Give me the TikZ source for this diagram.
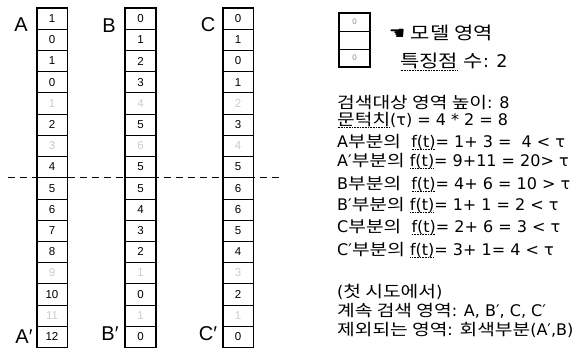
\documentclass[tikz,border=0pt]{standalone}
\usepackage{fontspec}
\setmainfont{DejaVu Sans}
\newfontfamily\kr[FakeStretch=1.2]{Noto Sans CJK KR}
\newfontfamily\lab{Liberation Sans}
\newfontfamily\symf{DejaVu Sans}
\def\dotul#1{\setbox0\hbox{#1}\rlap{\raisebox{-2.8pt}{\hbox to \wd0{\leaders\hbox to 1.6pt{\hss\rule{0.8pt}{0.7pt}\hss}\hfill}}}\box0\relax}
\tikzset{
  cn/.style={draw=black, line width=0.6pt, fill=white, minimum width=30pt, minimum height=21.2pt, inner sep=0pt, font=\lab\fontsize{11.5}{11.5}\selectfont},
  cf/.style={cn, text=black!20},
  collab/.style={inner sep=0pt, font=\lab\fontsize{20}{20}\selectfont},
  rtxt/.style={anchor=west, inner sep=0pt, font=\fontsize{16}{16}\selectfont},
  mtxt/.style={anchor=west, inner sep=0pt, font=\fontsize{17.5}{17.5}\selectfont},
  mcell/.style={draw=black, line width=0.6pt, minimum width=30pt, minimum height=18pt, inner sep=0pt, font=\lab\fontsize{8}{8}\selectfont, text=black!45},
  dline/.style={line width=1.5pt, dash pattern=on 7pt off 5pt},
  outer/.style={line width=1.6pt}
}
\newcommand\drawcolumn[3]{%
  \foreach \v/\s [count=\i] in {#3} {
    \node[\s] (#1\i) at ({#2},{8+(\i-0.5)*21.2}) {\v};
  }
  \draw[outer] (#11.north west) rectangle (#116.south east);
}
\begin{document}
\begin{tikzpicture}[x=1pt,y=-1pt]
\useasboundingbox (0,0) rectangle (576,361);
\fill[white] (0,0) rectangle (576,361);
% dashed line behind columns
\coordinate (dl) at (8,177.6);
\coordinate (dr) at (282,177.6);
\draw[dline] (dl) -- (dr);
% columns
\drawcolumn{A}{52}{1/cn,0/cn,1/cn,0/cn,1/cf,2/cn,3/cf,4/cn,5/cn,6/cn,7/cn,8/cn,9/cf,10/cn,11/cf,12/cn}
\drawcolumn{B}{140.5}{0/cn,1/cn,2/cn,3/cn,4/cf,5/cn,6/cf,5/cn,5/cn,4/cn,3/cn,2/cn,1/cf,0/cn,1/cf,0/cn}
\drawcolumn{C}{238}{0/cn,1/cn,0/cn,1/cn,2/cf,3/cn,4/cf,5/cn,6/cn,6/cn,5/cn,4/cn,3/cf,2/cn,1/cf,0/cn}
% column labels
\node[collab] (la) at (21,25) {A};
\node[collab] (lap) at (24,337) {A′};
\node[collab] (lb) at (109,26) {B};
\node[collab] (lbp) at (110,334) {B′};
\node[collab] (lc) at (208,25) {C};
\node[collab] (lcp) at (208,334) {C′};
% model region
\node[mcell] (m1) at (354.5,22) {0};
\node[mcell] (m2) at (354.5,40) {};
\node[mcell] (m3) at (354.5,58) {0};
\draw[outer] (m1.north west) rectangle (m3.south east);
\node[mtxt] (mt1) at (389,33) {{\symf\fontsize{18}{18}\selectfont ☚} {\kr 모델 영역}};
\node[mtxt] (mt2) at (400,62) {\dotul{\kr 특징점} {\kr 수}: 2};
% right texts
\node[rtxt] (t1) at (337,103) {{\kr 검색대상 영역 높이}: 8};
\node[rtxt] (t2) at (337,120) {\dotul{\kr 문턱치}(τ) = 4 * 2 = 8};
\node[rtxt] (t3) at (337,142) {A{\kr 부분의}\ \ \dotul{f(t)}= 1+ 3 =\ \ 4 < τ};
\node[rtxt] (t4) at (337,161) {A′{\kr 부분의} \dotul{f(t)}= 9+11 = 20> τ};
\node[rtxt] (t5) at (337,184) {B{\kr 부분의}\ \ \dotul{f(t)}= 4+ 6 = 10 > τ};
\node[rtxt] (t6) at (337,205) {B′{\kr 부분의} \dotul{f(t)}= 1+ 1 = 2 < τ};
\node[rtxt] (t7) at (337,227) {C{\kr 부분의}\ \ \dotul{f(t)}= 2+ 6 = 3 < τ};
\node[rtxt] (t8) at (337,250) {C′{\kr 부분의} \dotul{f(t)}= 3+ 1= 4 < τ};
\node[rtxt] (t9) at (337,292) {({\kr 첫 시도에서})};
\node[rtxt] (t10) at (337,311) {{\kr 계속 검색 영역}: A, B′, C, C′};
\node[rtxt] (t11) at (337,330) {{\kr 제외되는 영역}: {\kr 회색부분}(A′,B)};
\end{tikzpicture}
\end{document}
